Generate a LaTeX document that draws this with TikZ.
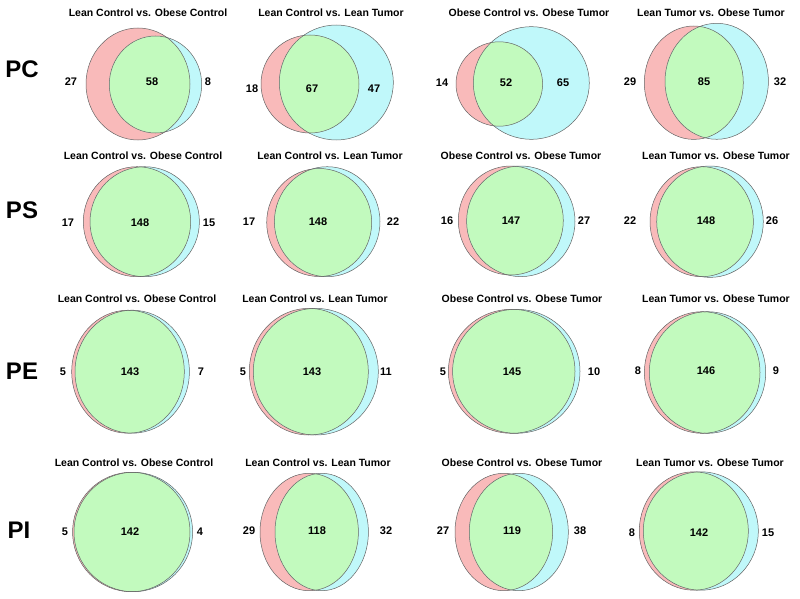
\documentclass[tikz,border=0pt]{standalone}
\usepackage{fontspec}
\setmainfont{Liberation Sans}
\usetikzlibrary{positioning}

\definecolor{leftpink}{RGB}{249,186,186}
\definecolor{rightcyan}{RGB}{192,248,250}
\definecolor{overlapgreen}{RGB}{194,250,190}
\definecolor{rimgray}{RGB}{100,100,100}

\tikzset{
  setA/.style={fill=leftpink},
  setB/.style={fill=rightcyan},
  setAB/.style={fill=overlapgreen},
  rim/.style={draw=rimgray, line width=0.5pt},
  paneltitle/.style={font=\fontsize{10.5}{12}\selectfont\bfseries, inner sep=0pt},
  count/.style={font=\fontsize{11}{12}\selectfont\bfseries, inner sep=0pt},
  rowlab/.style={font=\fontsize{24}{26}\selectfont\bfseries, inner sep=0pt}
}

\begin{document}
\begin{tikzpicture}[x=1pt, y=-1pt]
        \useasboundingbox (0,0) rectangle (800,599);

        % lipid classes
        \node[rowlab] (pc) at (22,69) {PC};
        \node[rowlab] (ps) at (22,210) {PS};
        \node[rowlab] (pe) at (22,371) {PE};
        \node[rowlab] (pi) at (19,530) {PI};

        % one venn pair per panel
        \foreach \n/\ttl/\tx/\ty/\pcx/\pcy/\prx/\pry/\ccx/\ccy/\crx/\cry/\ly/\la/\lx/\ma/\mx/\ra/\rx in {
            1/Lean Control vs. Obese Control/148/13/138/84/52/56/155.5/84.5/46.2/48.5/82/27/71/58/152/8/208,
            2/Lean Control vs. Lean Tumor/331/13/310/84/49/49/336.3/82.5/57/57.5/88.5/18/252/67/312/47/374,
            3/Obese Control vs. Obese Tumor/529/13/499.3/84/43.3/42.2/531.3/83/58/56.3/83/14/442/52/506/65/563,
            4/Lean Tumor vs. Obese Tumor/711/13/693.8/82.7/49.5/56.7/716.7/81.3/51.7/58/82/29/630/85/704/32/780,
            5/Lean Control vs. Obese Control/143/156/137/221.7/53.7/55/144.7/221.7/54.7/55/223/17/68/148/140/15/209,
            6/Lean Control vs. Lean Tumor/330/156/319.2/222.5/52.5/54/327.2/221.7/52.8/55/222/17/249/148/318/22/393,
            7/Obese Control vs. Obese Tumor/521/156/510.8/220.5/52.5/54.5/520.8/221.3/54.2/55.3/221/16/447/147/511/27/584,
            8/Lean Tumor vs. Obese Tumor/716/156/701.7/221.7/51.7/55/710/221.7/53.3/55.7/221/22/630/148/706/26/772,
            9/Lean Control vs. Obese Control/137/299/128/371.7/56.3/61.5/132.2/371.7/57.2/61.5/372/5/63/143/130/7/201,
            10/Lean Control vs. Lean Tumor/315/299/308.8/371.7/59.5/63.3/315.8/371.7/62.5/63.3/372/5/243/143/312/11/386,
            11/Obese Control vs. Obese Tumor/522/299/511.7/371.3/63.3/62/516.3/371.3/63.7/62/372/5/443/145/512/10/594,
            12/Lean Tumor vs. Obese Tumor/716/299/702.2/372.5/57.8/60.8/707.5/372.5/58.2/60.8/371/8/638/146/706/9/776,
            13/Lean Control vs. Obese Control/134/463/131.3/532/58.7/59.7/133.3/532/59.3/59.7/532/5/65/142/130/4/200,
            14/Lean Control vs. Lean Tumor/318/463/309.2/532/49.2/58.7/321.7/532/46.7/58.7/530.5/29/249/118/317/32/386,
            15/Obese Control vs. Obese Tumor/522/463/503.8/532/48.8/58.7/518.8/532/49.5/58.7/531/27/443/119/512/38/580,
            16/Lean Tumor vs. Obese Tumor/710/463/693.8/531/54.5/59.2/700.8/531/57.5/59.2/533/8/632/142/699/15/768}
        {
            \fill[setA] (\pcx,\pcy) ellipse [x radius=\prx, y radius=\pry];
            \fill[setB] (\ccx,\ccy) ellipse [x radius=\crx, y radius=\cry];
            \begin{scope}
                \clip (\pcx,\pcy) ellipse [x radius=\prx, y radius=\pry];
                \fill[setAB] (\ccx,\ccy) ellipse [x radius=\crx, y radius=\cry];
            \end{scope}
            \draw[rim] (\pcx,\pcy) ellipse [x radius=\prx, y radius=\pry];
            \draw[rim] (\ccx,\ccy) ellipse [x radius=\crx, y radius=\cry];
            \node[paneltitle] (title\n) at (\tx,\ty) {\ttl};
            \node[count] (onlyA\n) at (\lx,\ly) {\la};
            \node[count] (both\n) at (\mx,\ly) {\ma};
            \node[count] (onlyB\n) at (\rx,\ly) {\ra};
        }
    \end{tikzpicture}
\end{document}
